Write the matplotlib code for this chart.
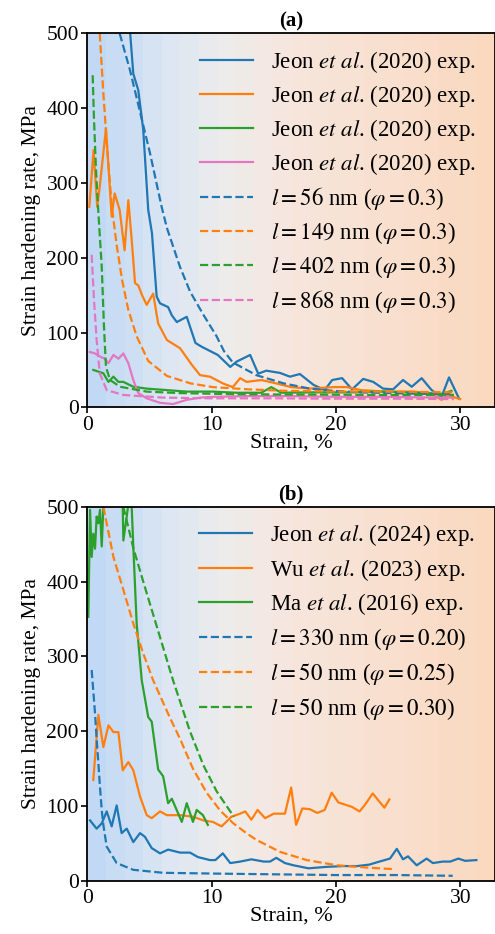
import numpy as np
import matplotlib.pyplot as plt
from matplotlib.colors import LinearSegmentedColormap

plt.rcParams['font.family'] = 'serif'
plt.rcParams['font.serif'] = ['Liberation Serif', 'DejaVu Serif']
plt.rcParams['mathtext.fontset'] = 'stix'

# ---- panel (a) data ----
a_blue_x = [3.4, 3.7, 4.1, 4.5, 4.9, 5.2, 5.58, 5.85, 6.5, 6.8, 7.2, 8.0, 8.7, 9.2, 10.5, 11.5, 12.0, 13.1,
            13.75, 14.4, 15.5, 16.3, 17.1, 18.2, 19.1, 19.7, 20.5, 21.3, 22.2, 23.0, 23.8, 24.6, 25.4, 26.1,
            26.9, 27.7, 28.5, 29.1, 29.9]
a_blue_y = [510, 446, 424, 371, 264, 233, 148, 139, 134, 123, 114, 121, 86, 81, 70, 54, 61, 70,
            45, 49, 46, 41, 44.5, 30, 23, 36.5, 39, 24, 38, 34, 25, 24, 36.5, 27.5,
            39, 23, 14, 40, 12]
a_orange_x = [0.16, 0.5, 0.8, 1.0, 1.5, 1.96, 2.2, 2.6, 3.0, 3.3, 3.57, 3.84, 4.1, 4.4, 4.78, 5.3, 5.7, 6.4,
              7.46, 8.4, 9.07, 9.87, 10.9, 11.7, 12.3, 12.8, 14.0, 15.2, 16.4, 17.9, 19.8, 20.9, 22.0, 24.1,
              26.2, 27.6, 28.5, 29.0, 30.0]
a_orange_y = [268, 344, 268, 295, 373, 255, 286, 264, 210, 277, 224, 166, 163, 150, 137, 152, 112, 90,
              79, 57, 43, 41, 32, 27, 39, 34, 36.5, 32, 27, 25, 27, 27, 23, 21,
              21, 19, 10, 16, 11]
a_green_x = [0.48, 1.29, 1.7, 2.1, 2.5, 2.9, 3.7, 4.78, 6.4, 8.0, 10.1, 12.0, 14.0, 14.8, 15.6, 18.0, 21.0,
             24.0, 27.0, 28.5, 29.3]
a_green_y = [50, 45.5, 34, 41, 34, 34, 27.5, 25, 23, 21, 21, 19.5, 19.5, 27, 19.5, 20, 20,
             21, 19, 18, 22]
a_pink_x = [0.2, 0.62, 1.0, 1.4, 1.7, 2.1, 2.5, 2.9, 3.3, 3.7, 4.1, 4.78, 5.85, 6.9, 8.0, 9.07, 10.1, 13.0,
            16.0, 20.0, 24.0, 28.0, 29.3]
a_pink_y = [74, 72, 68, 65, 59, 70, 65, 72, 59, 36.5, 19, 12, 6, 4.4, 10, 13, 14, 15,
            15, 14, 14, 13, 13]

a_mblue_x = [2.6, 3.43, 4.4, 5.04, 5.98, 6.4, 7.45, 8.26, 9.33, 10.4, 11.0, 11.7, 13.6, 15.8, 17.9, 19.8,
             22.0, 24.5, 27.0, 29.5]
a_mblue_y = [500, 451, 384, 340, 268, 240, 188, 155, 124, 95, 75, 60, 43, 32, 25, 22, 20, 19, 18, 18]
a_morange_x = [1.0, 1.29, 1.56, 1.96, 2.36, 2.8, 3.3, 3.97, 4.9, 6.4, 8.3, 10.1, 13.0, 16.0, 20.0, 24.0, 29.5]
a_morange_y = [500, 420, 355, 270, 217, 170, 130, 95, 62, 42, 32, 27, 24, 22, 21, 21, 20]
a_mgreen_x = [0.43, 0.54, 0.7, 0.89, 1.16, 1.34, 1.5, 1.83, 2.63, 4.78, 7.46, 12.0, 18.0, 24.0, 29.5]
a_mgreen_y = [444, 384, 317, 260, 188, 108, 54, 36.5, 27.5, 21, 19, 17.5, 17, 16.5, 16.5]
a_mpink_x = [0.35, 0.54, 0.75, 1.0, 1.56, 2.9, 6.1, 10.0, 15.0, 20.0, 25.0, 29.5]
a_mpink_y = [204, 143, 90, 45.5, 23, 16.5, 13, 12, 12, 11.5, 11.5, 11]

a_labels = [r'Jeon $\mathit{et\ al}$. (2020) exp.'] * 4 + [
    r'$l = 56$ nm ($\varphi = 0.3$)', r'$l = 149$ nm ($\varphi = 0.3$)',
    r'$l = 402$ nm ($\varphi = 0.3$)', r'$l = 868$ nm ($\varphi = 0.3$)']

# ---- panel (b) data ----
b_blue_x = [0.22, 0.75, 1.16, 1.56, 1.96, 2.36, 2.76, 3.17, 3.7, 4.24, 4.64, 5.18, 5.85, 6.5, 7.46, 8.26, 8.9,
            9.87, 10.3, 10.9, 11.5, 12.3, 13.2, 14.2, 14.7, 15.2, 15.9, 16.6, 17.8, 19.3, 20.6, 21.7, 22.7,
            23.5, 24.35, 24.9, 25.4, 25.8, 26.5, 27.3, 27.8, 28.6, 29.2, 29.85, 30.4, 31.3]
b_blue_y = [81, 70, 77, 93, 73, 101, 64, 70, 52, 64, 59, 44, 37, 42, 38, 38, 32,
            28, 28, 37, 24, 26, 29, 26, 26, 31, 24, 21, 17, 19, 20, 20, 22,
            26, 30, 43, 29, 33, 21, 30, 24, 26, 26, 30, 27, 28]
b_orange_x = [0.48, 0.89, 1.29, 1.7, 2.1, 2.5, 2.85, 3.3, 3.7, 4.24, 4.78, 5.18, 5.85, 6.4, 7.46, 8.5, 9.33,
              10.1, 10.8, 11.6, 12.3, 12.7, 13.2, 13.7, 14.3, 15.0, 15.9, 16.4, 16.8, 17.3, 17.9, 18.5, 19.1,
              19.66, 20.2, 21.3, 21.9, 22.3, 22.96, 23.9, 24.3]
b_orange_y = [135, 222, 179, 208, 199, 199, 148, 159, 148, 113, 88, 84, 93, 88, 88, 86, 81,
              79, 73, 86, 90, 93, 82, 95, 84, 90, 90, 125, 75, 97, 96, 91, 95,
              118, 105, 99, 93, 101, 117, 98, 109]
b_green_x = [0.08, 0.22, 0.35, 0.48, 0.62, 0.75, 0.89, 1.02, 1.16, 1.29, 1.5, 2.0, 2.5, 2.85, 2.9, 3.17, 3.43,
             3.57, 3.7, 3.97, 4.38, 4.9, 5.18, 5.7, 6.1, 6.5, 6.8, 7.6, 8.0, 8.5, 8.8, 9.3, 9.7]
b_green_y = [353, 496, 433, 464, 444, 487, 478, 496, 447, 500, 540, 560, 540, 500, 455, 487, 520,
             500, 447, 344, 268, 219, 213, 149, 140, 104, 110, 79, 104, 79, 95, 88, 75]

b_mblue_x = [0.35, 0.62, 0.75, 0.89, 1.02, 1.16, 1.29, 1.56, 2.36, 3.7, 6.1, 10.1, 15.0, 20.0, 25.0, 29.4]
b_mblue_y = [282, 224, 190, 157, 125, 95, 75, 46, 24, 15, 11, 10, 9, 8, 8, 7]
b_morange_x = [1.29, 2.1, 2.9, 3.7, 4.5, 5.3, 6.65, 7.46, 8.5, 9.6, 10.7, 11.75, 12.8, 13.6, 15.5, 17.65, 20.1,
               22.5, 24.5]
b_morange_y = [500, 433, 389, 344, 304, 268, 218, 190, 150, 118, 94, 77, 64, 55, 39, 28, 21, 18, 16]
b_mgreen_x = [2.9, 3.7, 4.5, 5.3, 6.1, 6.9, 7.46, 8.26, 9.33, 10.4, 11.5, 11.8]
b_mgreen_y = [500, 445, 400, 356, 312, 268, 240, 200, 155, 120, 93, 86]

b_labels = [r'Jeon $\mathit{et\ al}$. (2024) exp.', r'Wu $\mathit{et\ al}$. (2023) exp.',
            r'Ma $\mathit{et\ al}$. (2016) exp.', r'$l = 330$ nm ($\varphi = 0.20$)',
            r'$l = 50$ nm ($\varphi = 0.25$)', r'$l = 50$ nm ($\varphi = 0.30$)']

C_BLUE, C_ORANGE, C_GREEN, C_PINK = '#1f77b4', '#ff7f0e', '#2ca02c', '#e377c2'

bg_cmap = LinearSegmentedColormap.from_list(
    'bg', [(0.0, '#c2d9f5'), (0.18, '#dce6f3'), (0.33, '#eeedec'),
           (0.5, '#f7e6de'), (0.75, '#f9e0cf'), (1.0, '#fad9bf')], N=22)


def style_axes(ax, title):
    ax.imshow(np.linspace(0, 1, 256).reshape(1, -1), cmap=bg_cmap, aspect='auto',
              extent=[0, 1, 0, 1], transform=ax.transAxes, zorder=0, interpolation='nearest')
    ax.set_xlim(0, 32.8)
    ax.set_ylim(0, 500)
    ax.set_xticks([0, 10, 20, 30])
    ax.set_yticks([0, 100, 200, 300, 400, 500])
    ax.tick_params(labelsize=15.5, length=4, width=1.2, direction='out', pad=2)
    for sp in ax.spines.values():
        sp.set_linewidth(1.3)
    ax.set_xlabel('Strain, %', fontsize=16, labelpad=-1)
    ax.set_ylabel('Strain hardening rate, MPa', fontsize=15.5, labelpad=4)
    ax.set_title(title, fontsize=15, fontweight='bold', pad=5)


fig = plt.figure(figsize=(4.95, 9.34), dpi=100)
ax_a = fig.add_axes([0.1764, 0.5639, 0.8236, 0.4004])
ax_b = fig.add_axes([0.1764, 0.0567, 0.8236, 0.4007])

lw = 1.6
ax_a.plot(a_blue_x, a_blue_y, color=C_BLUE, lw=lw)
ax_a.plot(a_orange_x, a_orange_y, color=C_ORANGE, lw=lw)
ax_a.plot(a_green_x, a_green_y, color=C_GREEN, lw=lw)
ax_a.plot(a_pink_x, a_pink_y, color=C_PINK, lw=lw)
ax_a.plot(a_mblue_x, a_mblue_y, '--', color=C_BLUE, lw=lw)
ax_a.plot(a_morange_x, a_morange_y, '--', color=C_ORANGE, lw=lw)
ax_a.plot(a_mgreen_x, a_mgreen_y, '--', color=C_GREEN, lw=lw)
ax_a.plot(a_mpink_x, a_mpink_y, '--', color=C_PINK, lw=lw)
style_axes(ax_a, '(a)')
ax_a.legend(ax_a.lines, a_labels, loc='upper right', bbox_to_anchor=(0.982, 0.99), frameon=False,
            fontsize=16.5, handlelength=2.3, handletextpad=0.8, labelspacing=0.35, borderpad=0)

ax_b.plot(b_blue_x, b_blue_y, color=C_BLUE, lw=lw)
ax_b.plot(b_orange_x, b_orange_y, color=C_ORANGE, lw=lw)
ax_b.plot(b_green_x, b_green_y, color=C_GREEN, lw=lw)
ax_b.plot(b_mblue_x, b_mblue_y, '--', color=C_BLUE, lw=lw)
ax_b.plot(b_morange_x, b_morange_y, '--', color=C_ORANGE, lw=lw)
ax_b.plot(b_mgreen_x, b_mgreen_y, '--', color=C_GREEN, lw=lw)
style_axes(ax_b, '(b)')
ax_b.legend(ax_b.lines, b_labels, loc='upper right', bbox_to_anchor=(0.98, 0.99), frameon=False,
            fontsize=16.5, handlelength=2.3, handletextpad=0.8, labelspacing=0.38, borderpad=0)

fig.savefig('out.png', dpi=100)
